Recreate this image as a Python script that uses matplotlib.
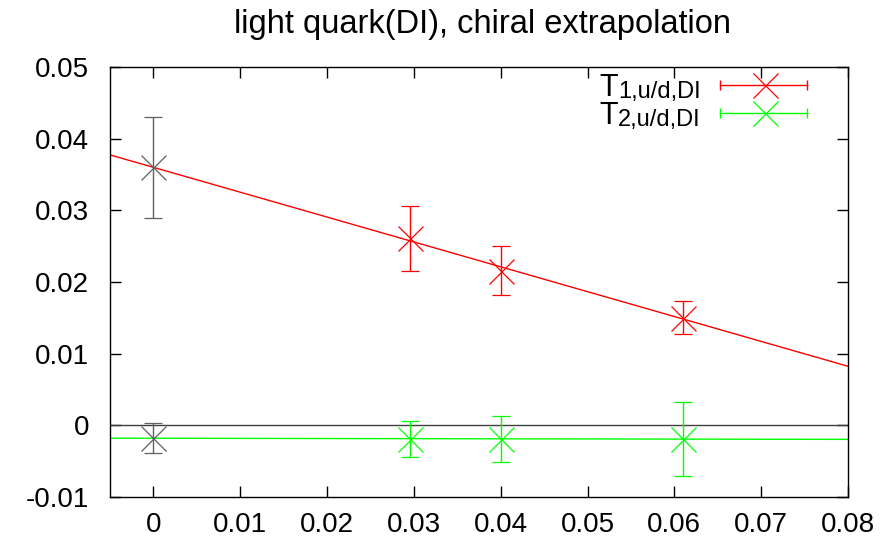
import numpy as np
import matplotlib
matplotlib.use("Agg")
import matplotlib.pyplot as plt

plt.rcParams['font.family'] = ['Liberation Sans', 'DejaVu Sans']

# ---- data ----
mpi2 = [0.0295, 0.040, 0.061]
t1 = [0.0261, 0.0216, 0.0150]
t1_err = [0.0045, 0.0034, 0.0023]
t2 = [-0.0019, -0.0019, -0.0019]
t2_err = [0.0025, 0.0032, 0.0052]

# chiral limit values
t1_chiral, t1_chiral_err = 0.0360, 0.0070
t2_chiral, t2_chiral_err = -0.0018, 0.0021

# linear fits: intercept, slope
fit1 = (0.0360, -0.347)
fit2 = (-0.0018, -0.002)

xticks = [0, 0.01, 0.02, 0.03, 0.04, 0.05, 0.06, 0.07, 0.08]
yticks = [-0.01, 0, 0.01, 0.02, 0.03, 0.04, 0.05]
key_subs = ['1,u/d,DI', '2,u/d,DI']

red = '#ff0000'
green = '#00ff00'
grey = '#606060'

fig = plt.figure(figsize=(8.88, 5.42), dpi=100)
ax = fig.add_axes([110 / 888, 45 / 542, 738 / 888, 430 / 542])

xlim = (-0.005, 0.08)
xx = np.array(xlim)

ax.axhline(0, color='#404040', lw=1.0)
ax.plot(xx, fit1[0] + fit1[1] * xx, color=red, lw=1.0)
ax.plot(xx, fit2[0] + fit2[1] * xx, color=green, lw=1.0)

style = dict(fmt='x', ms=18, mew=0.9, capsize=6.5, elinewidth=1.0, capthick=1.0, lw=0)
ax.errorbar(mpi2, t1, yerr=t1_err, color=red, **style)
ax.errorbar(mpi2, t2, yerr=t2_err, color=green, **style)
ax.errorbar([0], [t1_chiral], yerr=[t1_chiral_err], color=grey, **style)
ax.errorbar([0], [t2_chiral], yerr=[t2_chiral_err], color=grey, **style)

ax.set_xlim(*xlim)
ax.set_ylim(-0.01, 0.05)
ax.set_xticks(xticks)
ax.set_xticklabels([f'{v:g}' for v in xticks])
ax.set_yticks(yticks)
ax.set_yticklabels([f'{v:g}' for v in yticks])
ax.tick_params(direction='in', length=8, width=1, top=True, right=True,
               labelsize=20)
ax.tick_params(axis='x', pad=11)
ax.tick_params(axis='y', pad=15)
for s in ax.spines.values():
    s.set_linewidth(1.0)

# key drawn gnuplot-style: horizontal bar with caps and a cross
colors = [red, green]
rows = [0.958, 0.893]
for sub, c, yk in zip(key_subs, colors, rows):
    ax.plot([0.827, 0.944], [yk, yk], color=c, lw=1.0, transform=ax.transAxes)
    ax.plot([0.827, 0.944], [yk, yk], ls='none', marker='|', ms=7, mew=1.0,
            color=c, transform=ax.transAxes)
    ax.plot([0.888], [yk], ls='none', marker='x', ms=18, mew=0.9, color=c,
            transform=ax.transAxes)
    st = ax.text(0.80, yk - 0.030, sub, transform=ax.transAxes, ha='right',
                 va='baseline', fontsize=17)
    ax.annotate('T', xy=(0, 0), xycoords=st, xytext=(0, 5),
                textcoords='offset points', ha='right', va='baseline',
                fontsize=22)

fig.text(482 / 888, 1 - 33 / 542, 'light quark(DI), chiral extrapolation',
         ha='center', va='baseline', fontsize=23.5)

fig.savefig('out.png', dpi=100)
